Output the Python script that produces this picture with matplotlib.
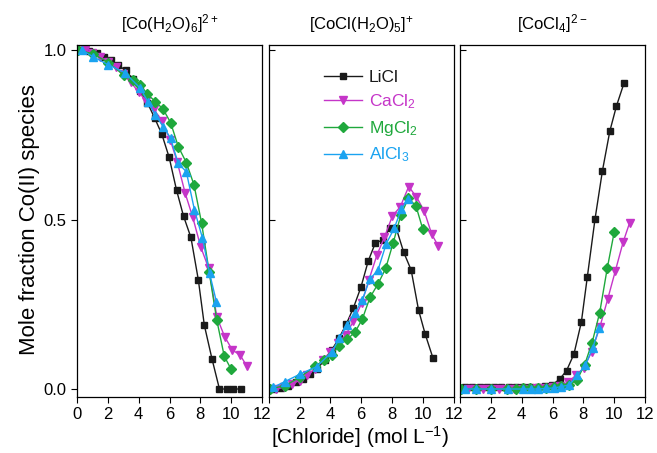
import matplotlib
matplotlib.use("Agg")
import matplotlib.pyplot as plt

plt.rcParams['font.family'] = ['Liberation Sans', 'DejaVu Sans']
plt.rcParams['mathtext.default'] = 'regular'

# chloride concentrations (mol/L) for each salt
licl_x = [0.33, 0.8, 1.27, 1.74, 2.21, 2.68, 3.15, 3.62, 4.09, 4.56, 5.03, 5.5,
          5.98, 6.46, 6.91, 7.39, 7.87, 8.26, 8.76, 9.24, 9.72, 10.15, 10.65]
licl_p1 = [1.0, 0.997, 0.99, 0.98, 0.97, 0.955, 0.94, 0.915, 0.88, 0.845, 0.80, 0.752,
           0.683, 0.586, 0.51, 0.447, 0.322, 0.188, 0.088, 0.0, 0.0, 0.0, 0.0]
licl_p2 = [0.0, 0.003, 0.01, 0.02, 0.03, 0.045, 0.06, 0.085, 0.115, 0.15, 0.191, 0.24,
           0.30, 0.378, 0.43, 0.44, 0.476, 0.476, 0.403, 0.351, 0.233, 0.162, 0.092]
licl_p3 = [0.005, 0.005, 0.005, 0.005, 0.005, 0.005, 0.005, 0.005, 0.005, 0.005, 0.006, 0.008,
           0.012, 0.029, 0.054, 0.103, 0.197, 0.331, 0.502, 0.644, 0.761, 0.835, 0.904]

cacl_x = [0.5, 1.0, 1.5, 2.0, 2.5, 3.0, 3.5, 4.0, 4.5, 5.0, 5.5, 6.05,
          6.5, 7.02, 7.5, 8.02, 8.54, 9.08, 9.58, 10.08, 10.58, 11.0]
cacl_p1 = [1.0, 0.99, 0.98, 0.965, 0.95, 0.93, 0.905, 0.875, 0.85, 0.825, 0.79, 0.735,
           0.67, 0.577, 0.508, 0.42, 0.356, 0.211, 0.154, 0.115, 0.10, 0.069]
cacl_p2 = [0.0, 0.005, 0.015, 0.025, 0.04, 0.06, 0.085, 0.11, 0.135, 0.16, 0.2, 0.255,
           0.322, 0.395, 0.447, 0.51, 0.538, 0.597, 0.567, 0.526, 0.456, 0.422]
cacl_p3 = [0.0, 0.0, 0.0, 0.0, 0.0, 0.0, 0.0, 0.0, 0.0, 0.002, 0.003, 0.005,
           0.01, 0.02, 0.04, 0.061, 0.11, 0.184, 0.265, 0.349, 0.433, 0.49]

mgcl_x = [0.09, 1.06, 2.04, 3.02, 3.6, 4.1, 4.55, 5.09, 5.59, 6.07, 6.57, 7.09,
          7.59, 8.08, 8.57, 9.06, 9.55, 10.0]
mgcl_p1 = [1.0, 0.988, 0.963, 0.926, 0.912, 0.898, 0.87, 0.848, 0.825, 0.786, 0.715, 0.668,
           0.602, 0.49, 0.346, 0.205, 0.097, 0.058]
mgcl_p2 = [0.0, 0.01, 0.035, 0.068, 0.085, 0.1, 0.128, 0.147, 0.167, 0.206, 0.27, 0.31,
           0.356, 0.432, 0.513, 0.563, 0.54, 0.471]
mgcl_p3 = [0.0, 0.0, 0.0, 0.0, 0.0, 0.002, 0.002, 0.003, 0.004, 0.005, 0.008, 0.012,
           0.027, 0.071, 0.137, 0.225, 0.356, 0.462]

alcl_x = [0.3, 1.05, 2.04, 3.11, 4.11, 4.59, 5.09, 5.59, 6.07, 6.56, 7.09, 7.62, 8.14, 8.6, 9.04]
alcl_p1 = [1.0, 0.98, 0.956, 0.933, 0.887, 0.848, 0.808, 0.774, 0.74, 0.666, 0.641,
           0.528, 0.445, 0.341, 0.258]
alcl_p2 = [0.005, 0.022, 0.044, 0.066, 0.11, 0.15, 0.189, 0.223, 0.263, 0.324, 0.351,
           0.428, 0.474, 0.53, 0.56]
alcl_p3 = [0.0, 0.0, 0.0, 0.0, 0.0, 0.0, 0.0, 0.002, 0.003, 0.007, 0.012,
           0.041, 0.071, 0.12, 0.181]

titles = [r'[Co(H$_2$O)$_6$]$^{2+}$', r'[CoCl(H$_2$O)$_5$]$^{+}$', r'[CoCl$_4$]$^{2-}$']
xticks = [0, 2, 4, 6, 8, 10, 12]

series = [
    ('LiCl', '#1a1a1a', 's', licl_x, [licl_p1, licl_p2, licl_p3]),
    (r'CaCl$_2$', '#c535c8', 'v', cacl_x, [cacl_p1, cacl_p2, cacl_p3]),
    (r'MgCl$_2$', '#1fa83c', 'D', mgcl_x, [mgcl_p1, mgcl_p2, mgcl_p3]),
    (r'AlCl$_3$', '#1aa3f0', '^', alcl_x, [alcl_p1, alcl_p2, alcl_p3]),
]

W, H = 657, 453
fig = plt.figure(figsize=(W / 100, H / 100), dpi=100)
lefts = [77, 268.7, 460]
axes = []
for i, left in enumerate(lefts):
    ax = fig.add_axes([left / W, 1 - 397 / H, 185 / W, 352 / H])
    axes.append(ax)
    for name, col, mk, xs, ys in series:
        ms = 5.5 if mk == 'D' else 6
        if mk == 's':
            ms = 5
        ax.plot(xs, ys[i], color=col, marker=mk, ms=ms, lw=1.0, label=name)
    ax.set_xlim(0, 12)
    ax.set_ylim(-8 / 339, 1 + 5 / 339)
    ax.set_xticks(xticks)
    ax.set_yticks([0.0, 0.5, 1.0])
    ax.set_title(titles[i], fontsize=12, pad=11)
    for s in ax.spines.values():
        s.set_linewidth(0.9)
    ax.tick_params(axis='x', direction='out', length=4, width=0.8, labelsize=12, pad=3)
    if i == 0:
        ax.set_xticklabels([str(t) for t in xticks])
        ax.set_yticklabels(['0.0', '0.5', '1.0'])
        ax.tick_params(axis='y', direction='out', length=4, width=0.8, labelsize=12)
    else:
        ax.set_xticklabels([''] + [str(t) for t in xticks[1:]])
        ax.set_yticklabels([])
        ax.tick_params(axis='y', direction='in', length=4, width=0.8)

leg = axes[1].legend(loc='upper left', bbox_to_anchor=(0.24, 0.96), frameon=False,
                     fontsize=12.5, handlelength=2.2, handletextpad=0.4,
                     labelspacing=0.45, borderaxespad=0.2)
for txt, (_, col, _, _, _) in zip(leg.get_texts(), series):
    txt.set_color(col)

fig.text(30 / W, 1 - 220 / H, 'Mole fraction Co(II) species', rotation=90,
         ha='center', va='center', fontsize=16)
fig.text(360 / W, 1 - 437 / H, r'[Chloride] (mol L$^{-1}$)', ha='center',
         va='center', fontsize=15)

fig.savefig('out.png', dpi=100)
